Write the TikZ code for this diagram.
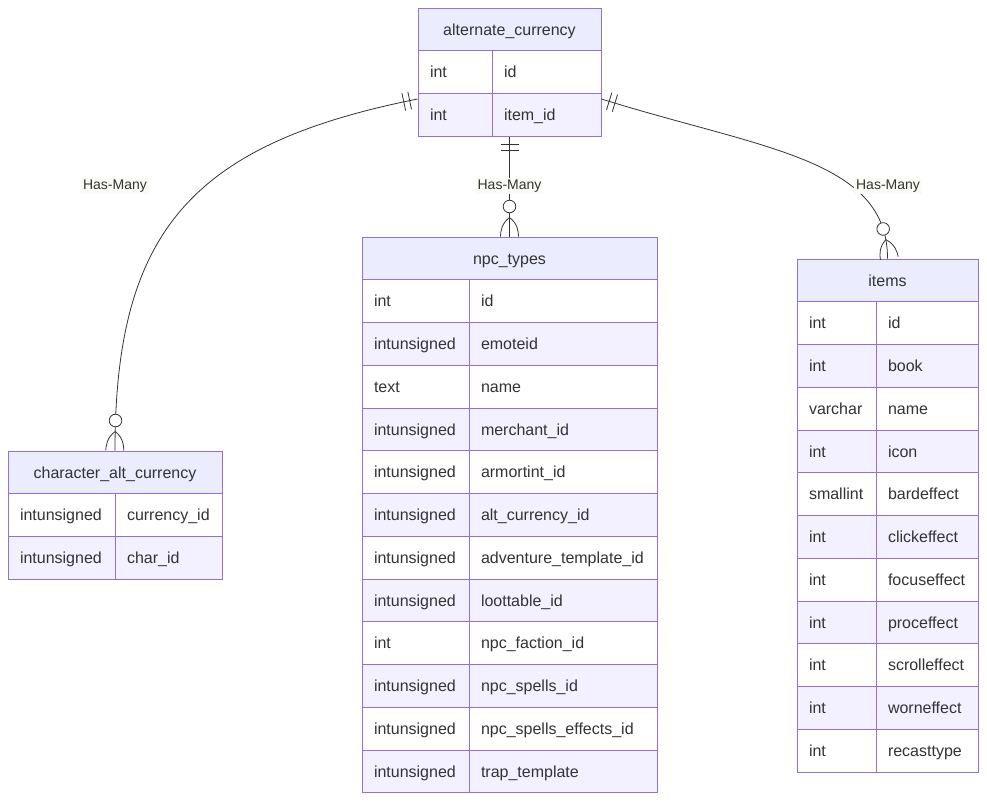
\documentclass[tikz,border=0pt]{standalone}
\usepackage{fontspec}
\setmainfont{Liberation Sans}
\usetikzlibrary{decorations.markings}

\definecolor{erborder}{HTML}{9370DB}
\definecolor{erheadfill}{HTML}{ECECFF}
\definecolor{erodd}{HTML}{FFFFFF}
\definecolor{ereven}{HTML}{F3F1FF}
\definecolor{ertext}{HTML}{333333}
\definecolor{lblbg}{HTML}{FBFBF6}

\tikzset{
  erhead/.style={draw=erborder, fill=erheadfill, line width=1pt, minimum height=42.75pt,
    inner sep=0pt, text height=11.5pt, text depth=0pt},
  ercell/.style={draw=erborder, line width=1pt, minimum height=42.75pt, inner xsep=12pt,
    inner ysep=0pt, text height=11.5pt, text depth=0pt, align=left},
  rel/.style={draw=ertext, line width=0.8pt},
  onebars/.style={postaction={decorate, decoration={markings,
      mark=at position 8pt with {\draw[rel] (0,-9) -- (0,9);},
      mark=at position 14pt with {\draw[rel] (0,-9) -- (0,9);}}}},
  zeromany/.style={postaction={decorate, decoration={markings,
      mark=at position -19pt with {\draw[rel] (0,0) .. controls (6,8) and (14,9) .. (19,9)
        (0,0) .. controls (6,-8) and (14,-9) .. (19,-9);},
      mark=at position -30pt with {\draw[rel, fill=white] (0,0) circle (6.3);}}}},
  haslabel/.style={font=\fontsize{14}{17}\selectfont, fill=lblbg, inner sep=2pt}
}

% table: name, left x, divider x, right x, top y, title, type/field rows
\newcommand{\ertable}[7]{%
  \pgfmathsetmacro\twtype{#3-#2-24}
  \pgfmathsetmacro\twfield{#4-#3-24}
  \node[erhead, minimum width={#4-#2}] (#1) at ({(#2+#4)/2},{#5+21.375}) {#6};
  \foreach \ty/\fd [count=\i] in {#7} {
    \ifodd\i\relax \def\rowfill{erodd}\else \def\rowfill{ereven}\fi
    \node[ercell, fill=\rowfill, text width=\twtype pt] (#1-\i-t) at ({(#2+#3)/2},{#5+21.375+42.75*\i}) {\ty};
    \node[ercell, fill=\rowfill, text width=\twfield pt] (#1-\i-f) at ({(#3+#4)/2},{#5+21.375+42.75*\i}) {\fd};
  }
}

\begin{document}
\begin{tikzpicture}[x=1pt, y=-1pt, font=\fontsize{16}{19}\selectfont, text=ertext]
  \useasboundingbox (0,0) rectangle (987,801);

  % Draw tables
  \ertable{altcur}{418}{492}{601}{8}{alternate\_currency}{int/id, int/item\_id}
  \ertable{npc}{362}{469}{657}{237}{npc\_types}{int/id, intunsigned/emoteid, text/name,
    intunsigned/merchant\_id, intunsigned/armortint\_id, intunsigned/alt\_currency\_id,
    intunsigned/adventure\_template\_id, intunsigned/loottable\_id, int/npc\_faction\_id,
    intunsigned/npc\_spells\_id, intunsigned/npc\_spells\_effects\_id, intunsigned/trap\_template}
  \ertable{items}{797}{876}{978}{259}{items}{int/id, int/book, varchar/name, int/icon,
    smallint/bardeffect, int/clickeffect, int/focuseffect, int/proceffect, int/scrolleffect,
    int/worneffect, int/recasttype}
  \ertable{charcur}{8}{115}{222}{451}{character\_alt\_currency}{intunsigned/currency\_id,
    intunsigned/char\_id}

  % Draw relations
  \draw[rel, onebars, zeromany] ([yshift=-6pt]altcur-2-t.north west)
    .. controls +(-225,45) and +(0,-220) .. (charcur.north);
  \draw[rel, onebars, zeromany] (altcur.south |- altcur-2-f.south) -- (npc.north);
  \draw[rel, onebars, zeromany] ([yshift=-6pt]altcur-2-f.north east)
    .. controls +(160,50) and +(0,-100) .. (items.north);

  % Relation labels
  \node[haslabel] (lblchar) at (115,186) {Has-Many};
  \node[haslabel] (lblnpc) at (509.5,186) {Has-Many};
  \node[haslabel] (lblitems) at (888,186) {Has-Many};
\end{tikzpicture}
\end{document}
